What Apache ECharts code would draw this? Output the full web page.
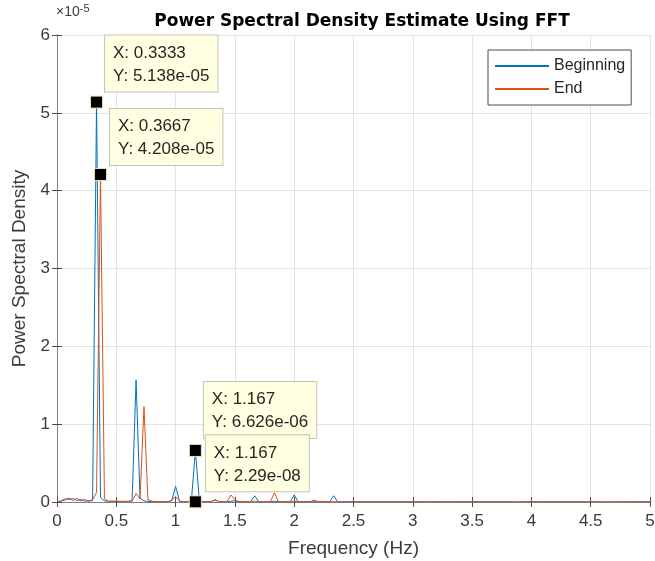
<!DOCTYPE html>
<html><head><meta charset="utf-8">
<script src="https://cdn.jsdelivr.net/npm/echarts@6/dist/echarts.min.js"></script>
<style>html,body{margin:0;padding:0;background:#fff}#c{width:655px;height:561px}</style>
</head><body><div id="c"></div>
<script>
// Frequency resolution of the FFT (Hz): bins are k * freqStep, k = 0..150 (0 .. 5 Hz)
const freqStep = 1 / 30;
const yScale = 1e-5; // values below are in units of 1e-5
const xTicks = ['0','0.5','1','1.5','2','2.5','3','3.5','4','4.5','5'];
const yTicks = ['0','1','2','3','4','5','6'];
const seriesNames = ['Beginning', 'End'];

// PSD values (x 1e-5), one per frequency bin
const psdBeginning = [
 0.004,0.010,0.025,0.050,0.020,0.045,0.015,0.030,0.010,0.020,
 5.138,0.060,0.015,0.008,0.012,0.006,0.010,0.005,0.008,0.020,
 1.568,0.050,0.015,0.008,0.005,0.004,0.006,0.004,0.005,0.015,
 0.200,0.010,0.005,0.004,0.020,0.6626,0.020,0.005,0.004,0.006,
 0.030,0.004,0.003,0.004,0.010,0.015,0.004,0.003,0.004,0.006,
 0.080,0.005,0.003,0.004,0.003,0.010,0.004,0.003,0.004,0.005,
 0.090,0.004,0.003,0.004,0.003,0.020,0.003,0.004,0.003,0.005,
 0.080,0.004,0.003,0.002,0.003,0.002,0.003,0.002,0.003,0.002,
 0.003,0.002,0.002,0.003,0.002,0.002,0.003,0.002,0.002,0.003,
 0.002,0.002,0.003,0.002,0.002,0.002,0.003,0.002,0.002,0.002,
 0.002,0.003,0.002,0.002,0.002,0.002,0.003,0.002,0.002,0.002,
 0.002,0.002,0.002,0.003,0.002,0.002,0.002,0.002,0.002,0.002,
 0.003,0.002,0.002,0.002,0.002,0.002,0.002,0.002,0.003,0.002,
 0.002,0.002,0.002,0.002,0.002,0.002,0.002,0.002,0.002,0.002,
 0.002,0.002,0.002,0.002,0.002,0.002,0.002,0.002,0.002,0.002,
 0.002
];
const psdEnd = [
 0.003,0.012,0.040,0.030,0.045,0.020,0.035,0.010,0.015,0.030,
 0.120,4.208,0.040,0.010,0.008,0.012,0.005,0.010,0.006,0.012,
 0.110,0.040,1.225,0.030,0.010,0.005,0.004,0.005,0.004,0.020,
 0.070,0.010,0.004,0.005,0.005,0.00229,0.005,0.004,0.005,0.004,
 0.025,0.004,0.005,0.004,0.090,0.030,0.005,0.004,0.003,0.004,
 0.010,0.004,0.003,0.004,0.005,0.120,0.004,0.003,0.004,0.003,
 0.010,0.003,0.004,0.003,0.004,0.005,0.010,0.003,0.004,0.003,
 0.005,0.003,0.002,0.003,0.002,0.003,0.002,0.003,0.002,0.002,
 0.003,0.002,0.002,0.003,0.002,0.002,0.002,0.003,0.002,0.002,
 0.002,0.003,0.002,0.002,0.002,0.002,0.002,0.003,0.002,0.002,
 0.002,0.002,0.002,0.002,0.003,0.002,0.002,0.002,0.002,0.002,
 0.002,0.003,0.002,0.002,0.002,0.002,0.002,0.002,0.002,0.003,
 0.002,0.002,0.002,0.002,0.002,0.002,0.002,0.002,0.002,0.002,
 0.002,0.002,0.003,0.002,0.002,0.002,0.002,0.002,0.002,0.002,
 0.002,0.002,0.002,0.002,0.002,0.002,0.002,0.002,0.002,0.002,
 0.002
];
// Data tips: bin indices per series
const tipsBeginning = [10, 35];
const tipsEnd = [11, 35];
const tipOffsets = { '0-10':[15,-60], '0-35':[15,-62], '1-11':[16,-59], '1-35':[17,-60] };

const freqs = psdBeginning.map((_, k) => k * freqStep);

function fmtX(v){ return String(parseFloat(v.toPrecision(4))); }
function fmtY(v){
  let s = (v * yScale).toExponential(3);
  let [m, e] = s.split('e');
  m = m.replace(/\.?0+$/, '');
  const neg = e[0] === '-';
  let d = e.replace(/^[+-]/, '');
  if (d.length < 2) d = '0' + d;
  return m + 'e' + (neg ? '-' : '+') + d;
}

const FONT = 'Liberation Sans, Arial, Helvetica, sans-serif';
const TXT = '#3a3a3a';

function tipPoints(si, idxs, vals){
  return idxs.map(k => ({
    coord: [freqs[k], vals[k]],
    label: {
      show: true,
      position: tipOffsets[si + '-' + k],
      align: 'left', verticalAlign: 'top',
      formatter: 'X: ' + fmtX(freqs[k]) + '\nY: ' + fmtY(vals[k]),
      backgroundColor: '#FFFFE1',
      borderColor: '#c4c4b8', borderWidth: 1,
      padding: [6, 8, 4, 8],
      fontFamily: FONT, fontSize: 17, lineHeight: 23, color: '#262626'
    }
  }));
}

const chart = echarts.init(document.getElementById('c'), null, {renderer: 'canvas'});
const axisCommon = {
  type: 'value',
  axisLine: {show: true, lineStyle: {color: '#808080', width: 1}},
  axisTick: {show: true, inside: true, length: 5, lineStyle: {color: '#4d4d4d'}},
};
chart.setOption({
  animation: false,
  backgroundColor: '#fff',
  title: {
    text: 'Power Spectral Density Estimate Using FFT',
    left: 357, top: 8, textAlign: 'center',
    textStyle: {fontFamily: 'DejaVu Sans, sans-serif', fontSize: 17, fontWeight: 'bold', color: '#000'}
  },
  grid: {left: 57, right: 5, top: 35, bottom: 59, containLabel: false, outerBoundsMode: 'none'},
  legend: {
    data: seriesNames.map(n => ({name: n, icon: 'rect'})),
    orient: 'vertical',
    left: 488, top: 50,
    itemWidth: 54, itemHeight: 2, itemGap: 5,
    padding: [7, 6, 7, 7],
    borderColor: '#4d4d4d', borderWidth: 1, backgroundColor: '#fff',
    textStyle: {fontFamily: FONT, fontSize: 16, color: '#262626', lineHeight: 18}
  },
  xAxis: [
    Object.assign({}, axisCommon, {
      min: 0, max: 5, interval: 0.5, position: 'bottom',
      name: 'Frequency (Hz)', nameLocation: 'middle', nameGap: 37,
      nameTextStyle: {fontFamily: FONT, fontSize: 19, color: TXT},
      axisLabel: {margin: 11, fontFamily: FONT, fontSize: 17, color: TXT,
        formatter: (v) => xTicks[Math.round(v / 0.5)]},
      splitLine: {show: true, lineStyle: {color: '#e3e3e3', width: 1}}
    }),
    Object.assign({}, axisCommon, {
      min: 0, max: 5, interval: 0.5, position: 'top',
      axisLabel: {show: false}, splitLine: {show: false}
    })
  ],
  yAxis: [
    Object.assign({}, axisCommon, {
      min: 0, max: 6, interval: 1, position: 'left',
      name: 'Power Spectral Density', nameLocation: 'middle', nameGap: 22,
      nameTextStyle: {fontFamily: FONT, fontSize: 19, color: TXT},
      axisLabel: {margin: 7, fontFamily: FONT, fontSize: 17, color: TXT,
        formatter: (v) => yTicks[Math.round(v)]},
      splitLine: {show: true, lineStyle: {color: '#e3e3e3', width: 1}}
    }),
    Object.assign({}, axisCommon, {
      min: 0, max: 6, interval: 1, position: 'right',
      axisLabel: {show: false}, splitLine: {show: false}
    })
  ],
  graphic: [{
    type: 'text', left: 56, top: 3,
    style: {
      text: '×10{sup|-5}',
      rich: {sup: {fontSize: 11, verticalAlign: 'top', padding: [0,0,8,0], fontFamily: FONT, fill: TXT}},
      fontFamily: FONT, fontSize: 14, fill: TXT
    }
  }],
  series: [
    {
      name: seriesNames[0], type: 'line', xAxisIndex: 0, yAxisIndex: 0,
      data: freqs.map((f, k) => [f, psdBeginning[k]]),
      symbol: 'none', lineStyle: {color: '#0072BD', width: 1}, itemStyle: {color: '#0072BD'},
      markPoint: {
        symbol: 'rect', symbolSize: 12,
        itemStyle: {color: '#000', borderColor: '#e6e6b4', borderWidth: 1},
        data: tipPoints(0, tipsBeginning, psdBeginning)
      },
      z: 2
    },
    {
      name: seriesNames[1], type: 'line', xAxisIndex: 0, yAxisIndex: 0,
      data: freqs.map((f, k) => [f, psdEnd[k]]),
      symbol: 'none', lineStyle: {color: '#D95319', width: 1}, itemStyle: {color: '#D95319'},
      markPoint: {
        symbol: 'rect', symbolSize: 12,
        itemStyle: {color: '#000', borderColor: '#e6e6b4', borderWidth: 1},
        data: tipPoints(1, tipsEnd, psdEnd)
      },
      z: 3
    }
  ]
});
</script></body></html>
